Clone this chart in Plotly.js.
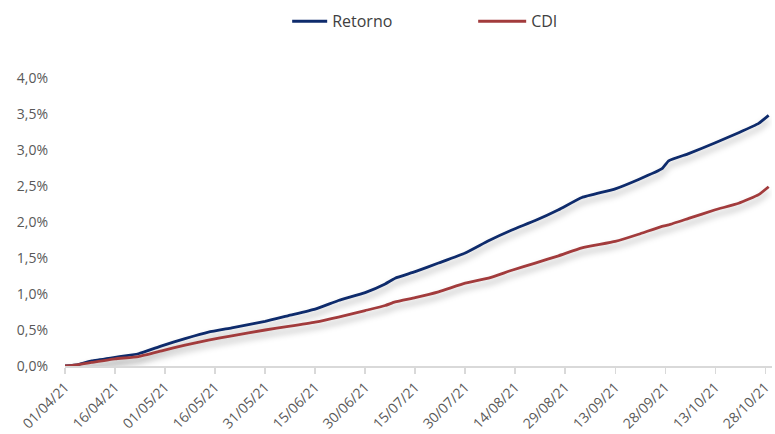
<!DOCTYPE html>
<html>
<head>
<meta charset="utf-8">
<script src="https://cdn.plot.ly/plotly-3.0.1.min.js"></script>
<style>
  html, body { margin: 0; padding: 0; background: #fff; }
  #chart { width: 775px; height: 434px; }
  .scatterlayer .trace path.js-line { filter: drop-shadow(0px 5px 3px rgba(0,0,0,0.30)); }
</style>
</head>
<body>
<div id="chart"></div>
<script>
const dates = ['2021-04-01','2021-04-05','2021-04-09','2021-04-16','2021-04-23','2021-04-30',
  '2021-05-07','2021-05-14','2021-05-21','2021-05-31','2021-06-07','2021-06-15','2021-06-22',
  '2021-06-30','2021-07-06','2021-07-09','2021-07-15','2021-07-22','2021-07-30','2021-08-06',
  '2021-08-13','2021-08-20','2021-08-27','2021-09-03','2021-09-13','2021-09-20','2021-09-27',
  '2021-09-29','2021-10-05','2021-10-13','2021-10-20','2021-10-26','2021-10-29'];
const retorno = [0.00,0.02,0.07,0.12,0.17,0.28,0.38,0.47,0.53,0.62,0.70,0.79,0.91,
  1.02,1.14,1.22,1.31,1.43,1.57,1.74,1.89,2.02,2.17,2.34,2.46,2.59,2.74,
  2.85,2.95,3.10,3.24,3.37,3.48];
const cdi = [0.00,0.02,0.05,0.10,0.13,0.21,0.29,0.36,0.42,0.50,0.55,0.61,0.68,
  0.77,0.84,0.89,0.95,1.03,1.15,1.22,1.33,1.43,1.53,1.64,1.73,1.83,1.94,
  1.96,2.05,2.17,2.26,2.38,2.49];
const tickDates = ['2021-04-01','2021-04-16','2021-05-01','2021-05-16','2021-05-31','2021-06-15',
  '2021-06-30','2021-07-15','2021-07-30','2021-08-14','2021-08-29','2021-09-13','2021-09-28',
  '2021-10-13','2021-10-28'];
const tickLabels = ['01/04/21','16/04/21','01/05/21','16/05/21','31/05/21','15/06/21',
  '30/06/21','15/07/21','30/07/21','14/08/21','29/08/21','13/09/21','28/09/21',
  '13/10/21','28/10/21'];
const yTicks = [0,0.5,1,1.5,2,2.5,3,3.5,4];
const yLabels = ['0,0%','0,5%','1,0%','1,5%','2,0%','2,5%','3,0%','3,5%','4,0%'];

const fam = 'Open Sans, Liberation Sans, sans-serif';

const traces = [
  {x: dates, y: retorno, name: 'Retorno', type: 'scatter', mode: 'lines',
   line: {color: '#0e2b6c', width: 2.8, shape: 'spline', smoothing: 0.4}},
  {x: dates, y: cdi, name: 'CDI', type: 'scatter', mode: 'lines',
   line: {color: '#a23b3c', width: 2.8, shape: 'spline', smoothing: 0.4}}
];

const layout = {
  width: 775, height: 434,
  margin: {l: 65, r: 3, t: 78, b: 68},
  paper_bgcolor: '#fff', plot_bgcolor: '#fff',
  font: {family: fam, color: '#595959', size: 14},
  showlegend: true,
  legend: {orientation: 'h', xref: 'container', x: 0.377, xanchor: 'left',
    y: 0.99, yanchor: 'top', yref: 'container', entrywidth: 154,
    font: {family: fam, color: '#404040', size: 16}},
  xaxis: {
    type: 'date', range: ['2021-04-01', '2021-10-30'],
    tickmode: 'array', tickvals: tickDates, ticktext: tickLabels, tickangle: -45,
    showgrid: false, zeroline: false, showline: true, linecolor: '#d9d9d9', linewidth: 1.5,
    ticks: 'outside', ticklen: 6, tickcolor: '#d9d9d9', tickwidth: 1.5,
    tickfont: {family: fam, color: '#595959', size: 14}
  },
  yaxis: {
    range: [0, 4], tickmode: 'array', tickvals: yTicks, ticktext: yLabels,
    showgrid: false, zeroline: false, showline: false, ticks: '',
    ticklabelstandoff: 16,
    tickfont: {family: fam, color: '#595959', size: 14}
  }
};

Plotly.newPlot('chart', traces, layout, {displayModeBar: false, staticPlot: true}).then(function () {
  // lengthen legend line symbols to match the reference
  document.querySelectorAll('#chart .legend .legendlines path').forEach(function (p) {
    p.setAttribute('d', 'M-13,0h48');
  });
});
</script>
</body>
</html>
